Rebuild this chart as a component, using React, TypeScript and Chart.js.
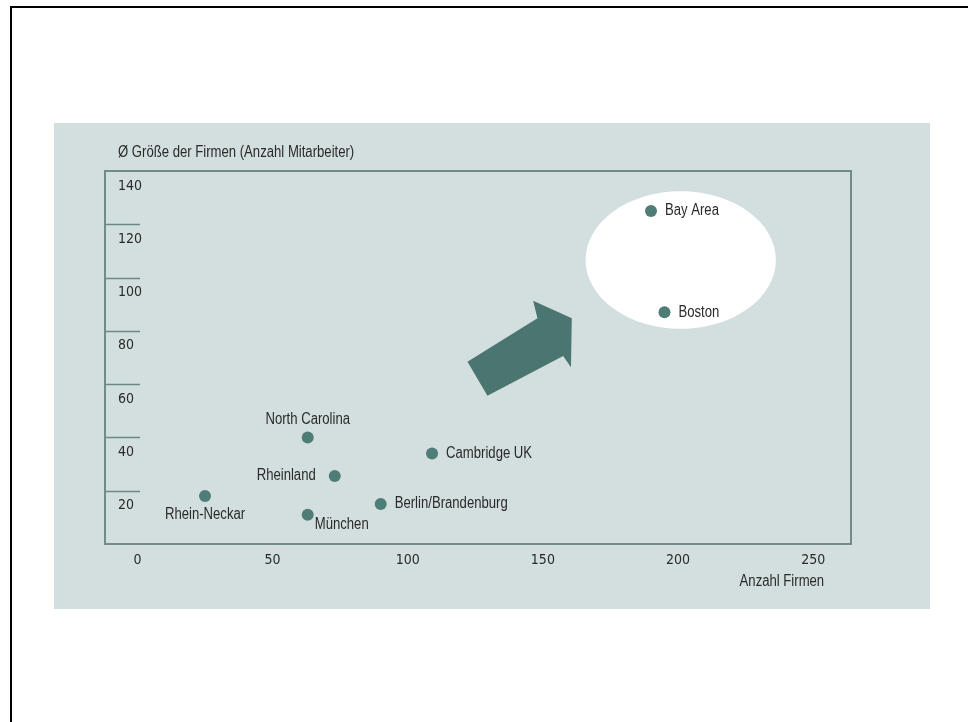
import React, { useEffect, useRef } from 'react';
import { Chart, registerables } from 'chart.js';

Chart.register(...registerables);

// ---- data ----
const regions = ['Rhein-Neckar', 'North Carolina', 'Rheinland', 'München', 'Berlin/Brandenburg', 'Cambridge UK', 'Bay Area', 'Boston'];
const firmCount = [25, 63, 73, 63, 90, 109, 190, 195];
const avgSize = [18, 40, 25.5, 11, 15, 34, 125, 87];
const labelPlacement = ['below', 'above', 'left', 'belowRight', 'right', 'right', 'right', 'right'];
const xTicks = [0, 50, 100, 150, 200, 250];
const yTicks = [0, 20, 40, 60, 80, 100, 120, 140];
const xTitle = 'Anzahl Firmen';
const yTitle = 'Ø Größe der Firmen (Anzahl Mitarbeiter)';
// highlight ellipse and arrow, in data units
const ellipseCenter = [201, 106.6];
const ellipseRadius = [35.2, 25.8];
const arrowX = [122.1, 148.0, 146.4, 160.7, 160.4, 157.5, 129.5];
const arrowY = [68.4, 84.7, 91.3, 84.7, 66.3, 70.6, 55.6];

const TICK_FONT = '"DejaVu Sans Condensed", "Liberation Sans", sans-serif';
const LABEL_FONT = '"Liberation Sans", Arial, sans-serif';
const NARROW = 0.82;
const TEXT = '#2a2a2a';
const TEAL = '#4e7d77';

function narrowText(ctx: CanvasRenderingContext2D, text: string, x: number, y: number, align: CanvasTextAlign) {
  ctx.save();
  ctx.translate(x, y);
  ctx.scale(NARROW, 1);
  ctx.textAlign = align;
  ctx.fillText(text, 0, 0);
  ctx.restore();
}

const decor = {
  id: 'decor',
  beforeDatasetsDraw(chart: any) {
    const { ctx, chartArea: a, scales } = chart;
    const x = scales.x, y = scales.y;
    ctx.save();
    // white ellipse
    const cx = x.getPixelForValue(ellipseCenter[0]);
    const cy = y.getPixelForValue(ellipseCenter[1]);
    const rx = Math.abs(x.getPixelForValue(ellipseCenter[0] + ellipseRadius[0]) - cx);
    const ry = Math.abs(y.getPixelForValue(ellipseCenter[1] + ellipseRadius[1]) - cy);
    ctx.fillStyle = '#ffffff';
    ctx.beginPath();
    ctx.ellipse(cx, cy, rx, ry, 0, 0, Math.PI * 2);
    ctx.fill();
    // arrow
    ctx.fillStyle = '#4a7570';
    ctx.beginPath();
    arrowX.forEach((v, i) => {
      const px = x.getPixelForValue(v);
      const py = y.getPixelForValue(arrowY[i]);
      if (i === 0) ctx.moveTo(px, py); else ctx.lineTo(px, py);
    });
    ctx.closePath();
    ctx.fill();
    // short y tick segments
    ctx.strokeStyle = '#6a8885';
    ctx.lineWidth = 1.5;
    yTicks.forEach((v) => {
      if (v === yTicks[0] || v === yTicks[yTicks.length - 1]) return;
      const py = Math.round(y.getPixelForValue(v)) + 0.5;
      ctx.beginPath();
      ctx.moveTo(a.left, py);
      ctx.lineTo(a.left + 35, py);
      ctx.stroke();
    });
    // plot box
    ctx.lineWidth = 2;
    ctx.strokeStyle = '#6f8c89';
    ctx.strokeRect(a.left, a.top, a.right - a.left, a.bottom - a.top);
    ctx.restore();
  },
  afterDatasetsDraw(chart: any) {
    const { ctx, chartArea: a, scales } = chart;
    const x = scales.x;
    ctx.save();
    ctx.font = `16px ${LABEL_FONT}`;
    ctx.fillStyle = TEXT;
    ctx.textBaseline = 'middle';
    const meta = chart.getDatasetMeta(0);
    meta.data.forEach((pt: any, i: number) => {
      const p = labelPlacement[i];
      let tx = pt.x, ty = pt.y;
      let align: CanvasTextAlign = 'left';
      if (p === 'below') { align = 'center'; ty += 19; }
      else if (p === 'above') { align = 'center'; ty -= 18; }
      else if (p === 'left') { align = 'right'; tx -= 19; }
      else if (p === 'belowRight') { align = 'left'; tx += 7; ty += 10; }
      else { align = 'left'; tx += 14; }
      narrowText(ctx, regions[i], tx, ty, align);
    });
    // axis titles
    narrowText(ctx, yTitle, a.left + 13, a.top - 18, 'left');
    narrowText(ctx, xTitle, x.getPixelForValue(xTicks[xTicks.length - 1]) + 11, a.bottom + 38, 'right');
    ctx.restore();
  },
};

export default function App() {
  const ref = useRef<HTMLCanvasElement>(null);
  useEffect(() => {
    if (!ref.current) return;
    const chart = new Chart(ref.current, {
      type: 'scatter',
      data: {
        datasets: [
          {
            data: firmCount.map((v, i) => ({ x: v, y: avgSize[i] })),
            backgroundColor: TEAL,
            borderWidth: 0,
            pointRadius: 6,
            pointHoverRadius: 6,
          },
        ],
      },
      options: {
        responsive: false,
        animation: false,
        events: [],
        layout: { padding: { left: 105, top: 171, right: 117, bottom: 148 } },
        plugins: { legend: { display: false }, tooltip: { enabled: false }, title: { display: false } },
        scales: {
          x: {
            type: 'linear',
            min: -12,
            max: 264,
            afterBuildTicks: (s: any) => { s.ticks = xTicks.map((v) => ({ value: v })); },
            afterFit: (s: any) => { s.height = 30; },
            grid: { display: false, drawTicks: false },
            border: { display: false },
            ticks: { padding: 8, color: TEXT, font: { family: TICK_FONT, size: 14 }, maxRotation: 0, autoSkip: false },
          },
          y: {
            type: 'linear',
            min: 0,
            max: 140,
            afterBuildTicks: (s: any) => { s.ticks = yTicks.map((v) => ({ value: v })); },
            afterFit: (s: any) => { s.width = 0; },
            grid: { display: false, drawTicks: false },
            border: { display: false },
            ticks: {
              mirror: true,
              padding: 13,
              labelOffset: 15,
              color: TEXT,
              font: { family: TICK_FONT, size: 14 },
              autoSkip: false,
              callback: (v: any) => (v === 0 ? '' : String(v)),
            },
          },
        },
      },
      plugins: [decor],
    });
    return () => chart.destroy();
  }, []);

  return (
    <div style={{ position: 'absolute', left: 0, top: 0, width: 968, height: 722, background: '#ffffff', overflow: 'hidden' }}>
      <div style={{ position: 'absolute', left: 10, top: 6, width: 958, height: 2, background: '#000' }} />
      <div style={{ position: 'absolute', left: 10, top: 6, width: 2, height: 716, background: '#000' }} />
      <div style={{ position: 'absolute', left: 54, top: 123, width: 876, height: 486, background: '#d3dfdf' }} />
      <canvas ref={ref} width={968} height={722} style={{ position: 'absolute', left: 0, top: 0, width: 968, height: 722 }} />
    </div>
  );
}
